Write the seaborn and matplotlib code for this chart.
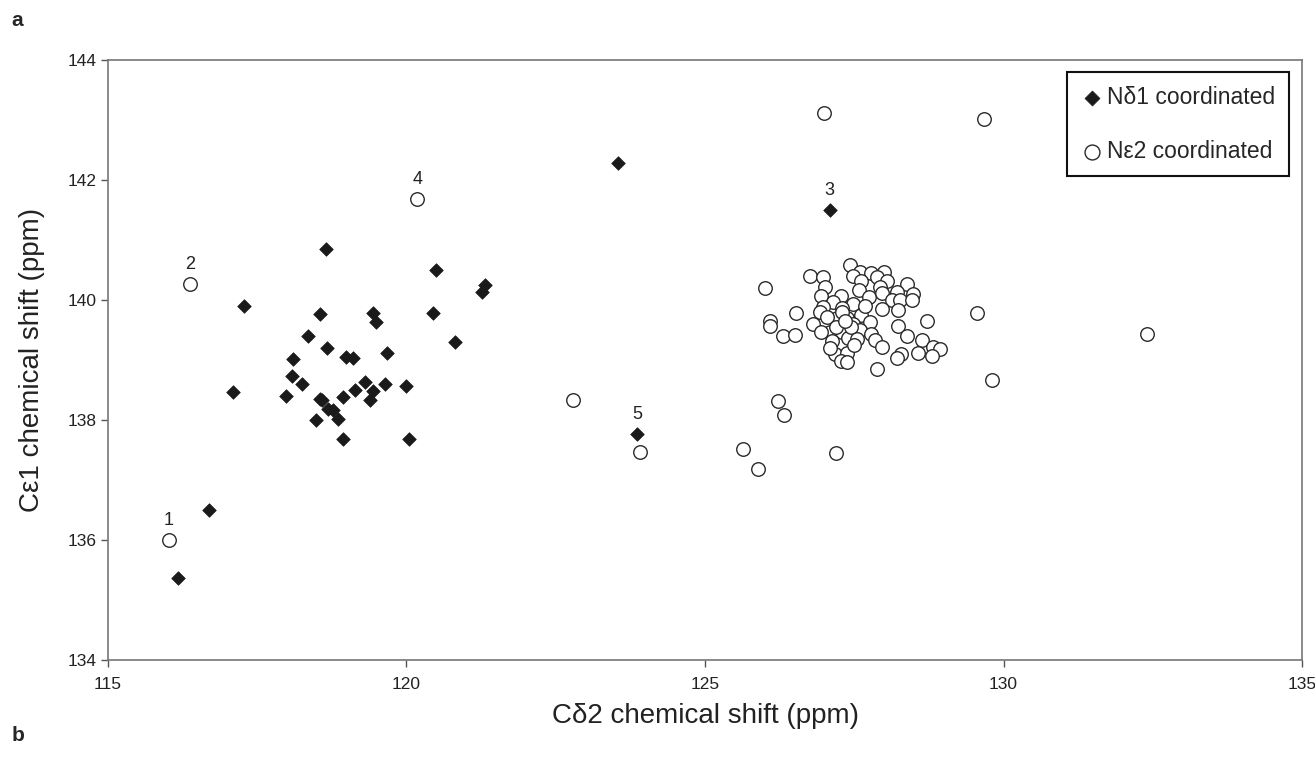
import matplotlib
matplotlib.use('Agg')
import matplotlib.pyplot as plt
import seaborn as sns
import pandas as pd

# N-delta1 coordinated (filled diamonds)
nd1_x = [116.17, 116.70, 117.10, 117.28, 117.98, 118.08, 118.10, 118.25, 118.35, 118.48,
         118.55, 118.58, 118.55, 118.65, 118.67, 118.68, 118.77, 118.85, 118.93, 118.93,
         118.99, 119.11, 119.13, 119.30, 119.39, 119.44, 119.44, 119.49, 119.64, 119.67,
         120.00, 120.05, 120.44, 120.49, 120.81, 121.26, 121.31, 123.55, 123.86, 127.09]
nd1_y = [135.37, 136.50, 138.47, 139.90, 138.40, 138.74, 139.02, 138.60, 139.40, 138.00,
         138.35, 138.33, 139.76, 140.85, 139.20, 138.18, 138.17, 138.01, 138.38, 137.69,
         139.05, 139.03, 138.50, 138.63, 138.34, 138.49, 139.78, 139.64, 138.60, 139.11,
         138.56, 137.69, 139.78, 140.50, 139.30, 140.14, 140.25, 142.28, 137.77, 141.50]

# N-epsilon2 coordinated (open circles)
ne2_x = [116.02, 116.38, 120.18, 122.79, 123.91, 125.64, 125.88, 126.23, 126.32, 127.00,
         127.19, 129.67, 129.56, 129.81, 132.40, 126.00, 126.08, 126.09, 126.30, 126.51,
         126.52, 126.76, 126.81,
         127.42, 126.98, 127.60, 127.78, 128.00, 127.48, 127.88, 128.04, 128.38, 127.01,
         127.62, 127.93, 127.58, 128.21, 128.49, 126.95, 127.27, 127.75, 127.96, 128.13,
         128.27, 128.47, 127.15, 127.48, 126.97, 127.96, 128.24, 126.93, 127.29, 127.62,
         127.21, 127.37, 127.04, 127.77, 127.47, 128.71, 127.09, 126.95, 127.29, 127.60,
         127.78, 128.24, 128.39, 127.40, 127.12, 127.85, 128.63, 128.82, 128.94, 127.96,
         128.56, 128.80, 128.29, 128.21, 127.18, 127.37, 127.28, 127.37, 127.88,
         127.30, 127.45, 127.55, 127.20, 127.50, 127.10, 127.68, 127.35]
ne2_y = [136.00, 140.27, 141.69, 138.33, 137.46, 137.51, 137.18, 138.32, 138.08, 143.12,
         137.45, 143.02, 139.79, 138.67, 139.43, 140.20, 139.65, 139.57, 139.40, 139.42,
         139.78, 140.40, 139.60,
         140.58, 140.38, 140.46, 140.45, 140.47, 140.40, 140.39, 140.31, 140.26, 140.22,
         140.31, 140.22, 140.16, 140.14, 140.10, 140.06, 140.06, 140.05, 140.12, 140.00,
         140.00, 140.00, 139.96, 139.93, 139.89, 139.85, 139.83, 139.80, 139.86, 139.75,
         139.70, 139.70, 139.72, 139.64, 139.60, 139.65, 139.47, 139.47, 139.46, 139.50,
         139.43, 139.57, 139.40, 139.36, 139.32, 139.33, 139.33, 139.21, 139.18, 139.21,
         139.12, 139.06, 139.10, 139.03, 139.10, 139.12, 138.99, 138.96, 138.85,
         139.80, 139.55, 139.35, 139.55, 139.25, 139.20, 139.90, 139.65]

# numbered labels
label_text = ['1', '2', '3', '4', '5']
label_x = [116.02, 116.38, 127.09, 120.18, 123.86]
label_y = [136.00, 140.27, 141.50, 141.69, 137.77]

sns.set_style('white')
plt.rcParams['font.family'] = ['Liberation Sans', 'DejaVu Sans']

fig = plt.figure(figsize=(13.15, 7.58), dpi=100)
ax = fig.add_axes([0.0821, 0.1293, 0.9081, 0.7915])

nd1 = pd.DataFrame({'x': nd1_x, 'y': nd1_y})
ne2 = pd.DataFrame({'x': ne2_x, 'y': ne2_y})

sns.scatterplot(data=nd1, x='x', y='y', marker='D', s=48, color='#1a1a1a',
                edgecolor='#1a1a1a', linewidth=0.5, label='N\u03b41 coordinated', ax=ax, zorder=3)
sns.scatterplot(data=ne2, x='x', y='y', marker='o', s=95, facecolor='white',
                edgecolor='#2a2a2a', linewidth=1.0, label='N\u03b52 coordinated', ax=ax, zorder=2)

for t, x, y in zip(label_text, label_x, label_y):
    ax.annotate(t, (x, y), xytext=(0, 8), textcoords='offset points',
                ha='center', va='bottom', fontsize=13, color='#222222')

ax.set_xlim(115, 135)
ax.set_ylim(134, 144)
ax.set_xticks([115, 120, 125, 130, 135])
ax.set_yticks([134, 136, 138, 140, 142, 144])
ax.tick_params(direction='out', length=5, width=1, colors='#555555',
               labelcolor='#222222', labelsize=12.5, left=True, bottom=True)
ax.tick_params(axis='x', pad=7)
for sp in ax.spines.values():
    sp.set_color('#777777')
    sp.set_linewidth(1.2)

ax.set_xlabel('C\u03b42 chemical shift (ppm)', fontsize=20, color='#222222', labelpad=8)
ax.set_ylabel('C\u03b51 chemical shift (ppm)', fontsize=20, color='#222222', labelpad=16)

leg = ax.legend(loc='upper right', bbox_to_anchor=(0.989, 0.98), fontsize=16.5,
                frameon=True, fancybox=False, edgecolor='#111111', framealpha=1,
                labelspacing=1.35, handletextpad=0.15, handlelength=1.0, borderpad=0.6,
                borderaxespad=0, markerscale=1.1)
leg.get_frame().set_linewidth(1.5)

fig.text(0.009, 0.973, 'a', fontsize=15, fontweight='bold', va='center')
fig.text(0.009, 0.030, 'b', fontsize=15, fontweight='bold', va='center')

fig.savefig('out.png', dpi=100)
